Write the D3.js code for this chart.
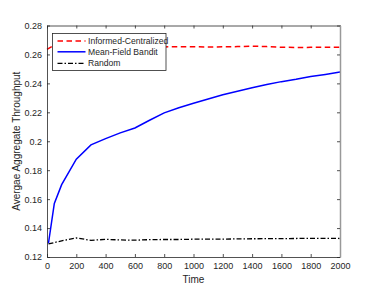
<!DOCTYPE html>
<html><head><meta charset="utf-8">
<script src="https://cdn.jsdelivr.net/npm/d3@7"></script>
<style>body{margin:0;background:#fff}svg{display:block}text{font-family:"Liberation Sans",Arial,sans-serif}</style>
</head><body><svg id="c" width="374" height="292"></svg>
<script>
const seriesNames = ["Informed-Centralized","Mean-Field Bandit","Random"];
const informedT = [0,50,100,200,300,400,500,600,700,800,900,1000,1100,1200,1300,1400,1500,1600,1700,1800,1900,2000];
const informedV = [0.2635,0.2665,0.2662,0.2658,0.2655,0.2655,0.2654,0.2653,0.2653,0.2652,0.2653,0.2653,0.2651,0.2653,0.2654,0.2657,0.2654,0.2650,0.2648,0.2649,0.2649,0.2649];
const banditT = [10,50,100,200,300,400,500,600,700,800,900,1000,1100,1200,1300,1400,1500,1600,1700,1800,1900,2000];
const banditV = [0.1295,0.157,0.170,0.1876,0.1975,0.2018,0.2058,0.2092,0.2145,0.2196,0.2232,0.2262,0.2292,0.2322,0.2345,0.2370,0.2392,0.2412,0.2428,0.2447,0.2462,0.2478];
const randomT = [10,100,200,300,400,500,600,700,800,900,1000,1200,1400,1600,1800,2000];
const randomV = [0.1290,0.1312,0.1332,0.1315,0.1322,0.1318,0.1316,0.1320,0.1321,0.1321,0.1323,0.1324,0.1326,0.1327,0.1329,0.1328];
const xTicks = [0,200,400,600,800,1000,1200,1400,1600,1800,2000];
const yTicks = [0.12,0.14,0.16,0.18,0.2,0.22,0.24,0.26,0.28];
const xTitle = "Time", yTitle = "Avergae Aggregate Throughput";

const svg = d3.select("#c");
const L=47, R=340, T=25.5, B=257;
const x = d3.scaleLinear().domain([0,2000]).range([L,R]);
const y = d3.scaleLinear().domain([0.12,0.28]).range([B,T]);
const ax = "#262626";
const fs = 9;

const line = d3.line().x(d=>x(d[0])).y(d=>y(d[1]));
const zip=(a,b)=>a.map((t,i)=>[t,b[i]]);
svg.append("path").datum(zip(randomT,randomV)).attr("d",line).attr("fill","none").attr("stroke","#000").attr("stroke-width",1.3).attr("stroke-dasharray","5,2,1.5,2");
svg.append("path").datum(zip(banditT,banditV)).attr("d",line).attr("fill","none").attr("stroke","#0000ff").attr("stroke-width",1.5);
svg.append("path").datum(zip(informedT,informedV)).attr("d",line).attr("fill","none").attr("stroke","#ff0000").attr("stroke-width",1.5).attr("stroke-dasharray","5.5,3.5");

// axes
const gb = svg.append("g").attr("transform",`translate(0,${B})`).call(d3.axisBottom(x).tickValues(xTicks).tickSizeInner(-3).tickSizeOuter(0).tickPadding(6).tickFormat(d3.format("d")));
const gt = svg.append("g").attr("transform",`translate(0,${T})`).call(d3.axisTop(x).tickValues(xTicks).tickSizeInner(-3).tickSizeOuter(0).tickFormat(""));
const gl = svg.append("g").attr("transform",`translate(${L},0)`).call(d3.axisLeft(y).tickValues(yTicks).tickSizeInner(-3).tickSizeOuter(0).tickPadding(5).tickFormat(d=>String(+d.toFixed(2))));
const gr = svg.append("g").attr("transform",`translate(${R},0)`).call(d3.axisRight(y).tickValues(yTicks).tickSizeInner(-3).tickSizeOuter(0).tickFormat(""));
[gb,gt,gl,gr].forEach(g=>{g.selectAll("path,line").attr("stroke",ax).attr("stroke-width",0.8);g.selectAll("text").attr("fill",ax).style("font-size",fs+"px").style("font-family",'"Liberation Sans",Arial,sans-serif');});
gr.select("path").attr("stroke","#999").attr("stroke-width",1.5);

svg.append("text").attr("x",(L+R)/2).attr("y",283).attr("text-anchor","middle").attr("fill",ax).style("font-size","10px").text(xTitle);
svg.append("text").attr("transform",`translate(20,${(T+B)/2}) rotate(-90)`).attr("text-anchor","middle").attr("fill",ax).style("font-size","10px").text(yTitle);

// legend
const lg = svg.append("g");
lg.append("rect").attr("x",52.5).attr("y",33.5).attr("width",113.5).attr("height",37).attr("fill","#fff").attr("stroke",ax).attr("stroke-width",0.8);
const styles=[{c:"#ff0000",d:"5.5,3.5",w:1.5},{c:"#0000ff",d:null,w:1.5},{c:"#000",d:"5,2,1.5,2",w:1.3}];
const ly=[41,51.8,63.3];
seriesNames.forEach((n,i)=>{
  lg.append("line").attr("x1",57.5).attr("x2",85.5).attr("y1",ly[i]).attr("y2",ly[i]).attr("stroke",styles[i].c).attr("stroke-width",styles[i].w).attr("stroke-dasharray",styles[i].d);
  lg.append("text").attr("x",88).attr("y",ly[i]+3).attr("fill",ax).style("font-size","8.6px").text(n);
});
</script></body></html>
